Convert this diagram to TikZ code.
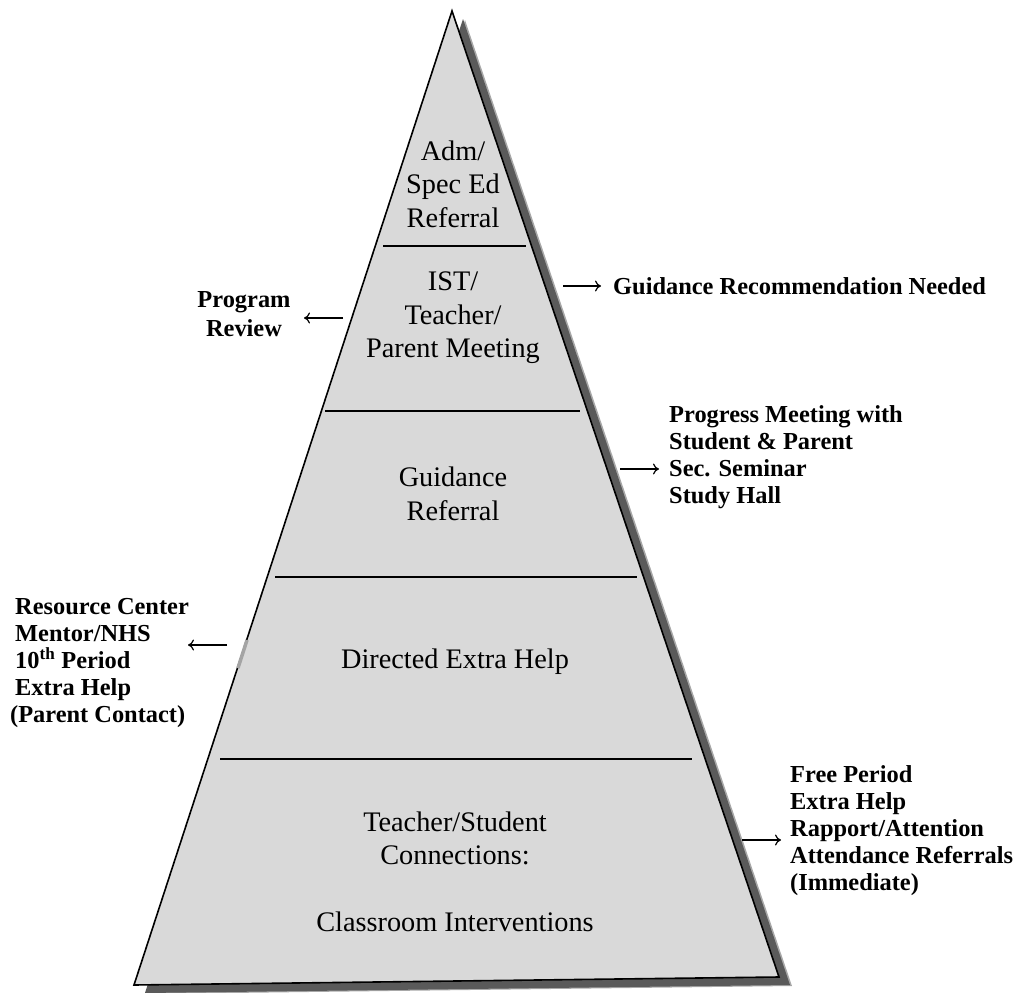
\documentclass[tikz,border=0pt]{standalone}
\usepackage{fontspec}
\setmainfont{Liberation Serif}
\usetikzlibrary{arrows.meta}
\definecolor{pyrfill}{HTML}{D9D9D9}
\definecolor{pyrshadow}{HTML}{5A5A5A}
\definecolor{pyrfringe}{HTML}{A8A8A8}
\begin{document}
\begin{tikzpicture}[x=1pt,y=-1pt,
  tierlabel/.style={font=\fontsize{28.3}{33.5}\selectfont, align=center, inner sep=0pt},
  sidelabel/.style={font=\fontsize{24.4}{27}\selectfont\bfseries, align=left, inner sep=0pt},
  divider/.style={line width=1.1pt},
  pointer/.style={line width=1.2pt, -{To[length=6pt,width=11pt]}},
]
\useasboundingbox (0,0) rectangle (1018,993);
\coordinate (apex) at (452,11);
\coordinate (bl) at (134,985);
\coordinate (br) at (779,977);
% shadow (soft fringe + core)
\fill[pyrfringe] ([shift={(13,9)}]apex) -- ([shift={(13,9)}]br) -- ([shift={(13,9)}]bl) -- cycle;
\fill[pyrshadow] ([shift={(11,8)}]apex) -- ([shift={(11,8)}]br) -- ([shift={(11,8)}]bl) -- cycle;
% pyramid
\draw[line width=1.6pt, fill=pyrfill, line join=miter] (apex) -- (br) -- (bl) -- cycle;
% small smudge on left edge
\draw[pyrshadow!55, line width=3.5pt] (247,640) -- (238,668);
% dividers
\draw[divider] (383,246) -- (526,246);
\draw[divider] (325,411) -- (580,411);
\draw[divider] (275,577) -- (637,577);
\draw[divider] (220,759) -- (692,759);
% tier labels
\node[tierlabel] (t1) at (453,184) {Adm/\\Spec Ed\\Referral};
\node[tierlabel] (t2) at (453,318) {IST/\\Teacher/\\Parent Meeting};
\node[tierlabel] (t3) at (453,494) {Guidance\\Referral};
\node[tierlabel] (t4) at (455,662) {Directed Extra Help};
\node[tierlabel] (t5) at (455,872) {Teacher/Student\\Connections:\\[33.5pt]Classroom Interventions};
% side labels
\node[sidelabel, align=center] (prog) at (244,314) {Program\\[2pt]Review};
\node[sidelabel, anchor=west] (guid) at (613,286) {Guidance Recommendation Needed};
\node[sidelabel, anchor=west] (progm) at (669,457) {Progress Meeting with\\Student \& Parent\\Sec. Seminar\\Study Hall};
\node[sidelabel, anchor=west] (res) at (15,663) {Resource Center\\Mentor/NHS\\10\textsuperscript{th} Period\\Extra Help\\\hspace*{-5pt}(Parent Contact)};
\node[sidelabel, anchor=west] (free) at (790,831) {Free Period\\Extra Help\\Rapport/Attention\\Attendance Referrals\\(Immediate)};
% arrows
\coordinate (a1s) at (343,318); \coordinate (a1e) at (304,318);
\coordinate (a2s) at (563,286); \coordinate (a2e) at (601,286);
\coordinate (a3s) at (620,469); \coordinate (a3e) at (659,469);
\coordinate (a4s) at (227,645); \coordinate (a4e) at (188,645);
\coordinate (a5s) at (742,840); \coordinate (a5e) at (781,840);
\draw[pointer] (a1s) -- (a1e);
\draw[pointer] (a2s) -- (a2e);
\draw[pointer] (a3s) -- (a3e);
\draw[pointer] (a4s) -- (a4e);
\draw[pointer] (a5s) -- (a5e);
\end{tikzpicture}
\end{document}
